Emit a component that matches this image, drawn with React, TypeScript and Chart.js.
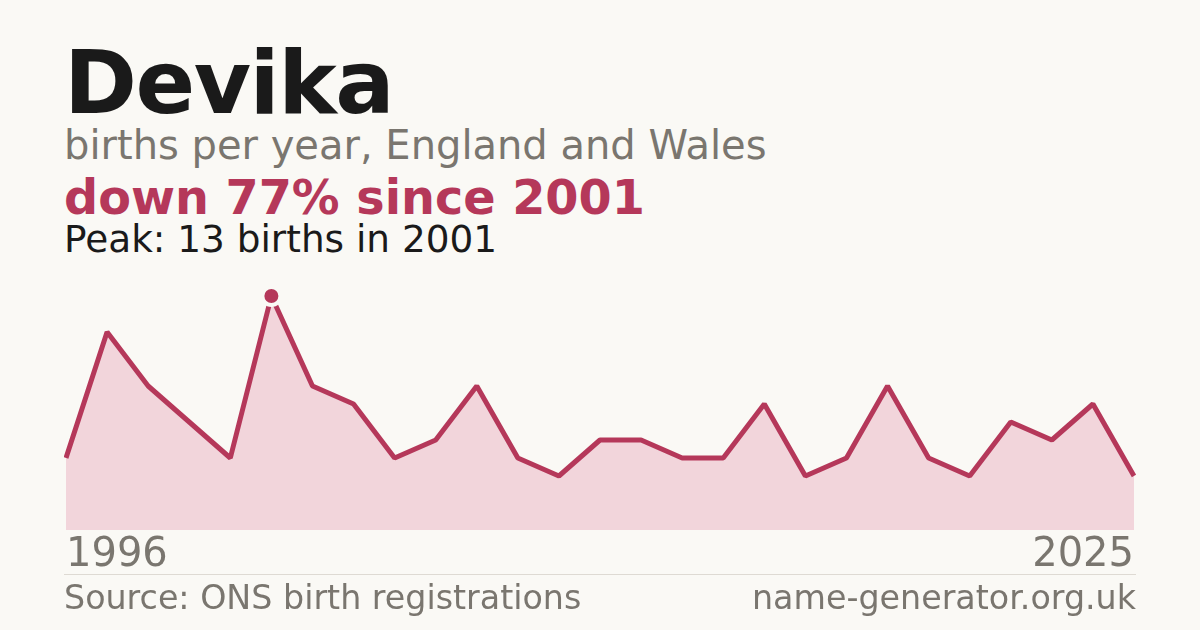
import React, { useEffect, useRef } from 'react';
import Chart from 'chart.js/auto';

const years = [
  '1996', '1997', '1998', '1999', '2000', '2001', '2002', '2004', '2005',
  '2006', '2007', '2008', '2009', '2010', '2011', '2013', '2014', '2015',
  '2016', '2017', '2018', '2019', '2021', '2022', '2023', '2024', '2025',
];
const births = [4, 11, 8, 6, 4, 13, 8, 7, 4, 5, 8, 4, 3, 5, 5, 4, 4, 7, 3, 4, 8, 4, 3, 6, 5, 7, 3];
const yMax = 14;

const RED = '#B5385A';
const FILL = '#F2D5DB';
const GREY = '#7A766F';
const BG = '#FAF9F5';
const FONT = '"DejaVu Sans", sans-serif';

const peakIdx = births.indexOf(Math.max(...births));

export default function App() {
  const chartRef = useRef<HTMLCanvasElement>(null);
  const chartInstanceRef = useRef<Chart | null>(null);

  useEffect(() => {
    document.body.style.margin = '0';
    const ctx = chartRef.current.getContext('2d');

    if (chartInstanceRef.current) {
      chartInstanceRef.current.destroy();
    }

    const last = years.length - 1;

    chartInstanceRef.current = new Chart(ctx, {
      type: 'line',
      data: {
        labels: years,
        datasets: [
          {
            data: births,
            borderColor: RED,
            borderWidth: 5,
            borderJoinStyle: 'bevel',
            backgroundColor: FILL,
            fill: 'origin',
            tension: 0,
            pointRadius: (c) => (c.dataIndex === peakIdx ? 9 : 0),
            pointBackgroundColor: RED,
            pointBorderColor: BG,
            pointBorderWidth: 4,
          },
        ],
      },
      options: {
        animation: false,
        responsive: true,
        maintainAspectRatio: false,
        events: [],
        layout: { padding: 0, autoPadding: false },
        scales: {
          x: {
            type: 'category',
            offset: false,
            grid: { display: false, drawTicks: false },
            border: { display: false },
            ticks: {
              autoSkip: false,
              maxRotation: 0,
              align: 'inner',
              padding: 2,
              color: GREY,
              font: { family: FONT, size: 40 },
              callback: (v, i) => (i === 0 || i === last ? years[i] : ''),
            },
          },
          y: {
            display: false,
            min: 0,
            max: yMax,
          },
        },
        plugins: {
          legend: { display: false },
          tooltip: { enabled: false },
        },
      },
    });

    return () => {
      if (chartInstanceRef.current) {
        chartInstanceRef.current.destroy();
        chartInstanceRef.current = null;
      }
    };
  }, []);

  const text = (top: number, size: number, color: string, weight: number, content: string, extra = {}) => (
    <div
      style={{
        position: 'absolute',
        left: 64,
        top,
        fontFamily: FONT,
        fontSize: size,
        fontWeight: weight,
        lineHeight: 1,
        color,
        whiteSpace: 'nowrap',
        ...extra,
      }}
    >
      {content}
    </div>
  );

  return (
    <div style={{ position: 'fixed', left: 0, top: 0, width: 1200, height: 630, background: BG, overflow: 'hidden' }}>
      {text(39, 88, '#1A1A1A', 700, 'Devika', { letterSpacing: -1.5 })}
      {text(125, 40, GREY, 400, 'births per year, England and Wales')}
      {text(174, 47.7, RED, 700, 'down 77% since 2001')}
      {text(221, 37.4, '#1A1A1A', 400, 'Peak: 13 births in 2001')}
      <div style={{ position: 'absolute', left: 64, top: 278, width: 1072, height: 304 }}>
        <canvas ref={chartRef} />
      </div>
      <div style={{ position: 'absolute', left: 64, top: 574, width: 1072, height: 1, background: '#DEDAD3' }} />
      {text(581, 33.3, GREY, 400, 'Source: ONS birth registrations')}
      <div
        style={{
          position: 'absolute',
          right: 64,
          top: 581,
          fontFamily: FONT,
          fontSize: 33.3,
          lineHeight: 1,
          color: GREY,
          whiteSpace: 'nowrap',
        }}
      >
        name-generator.org.uk
      </div>
    </div>
  );
}
